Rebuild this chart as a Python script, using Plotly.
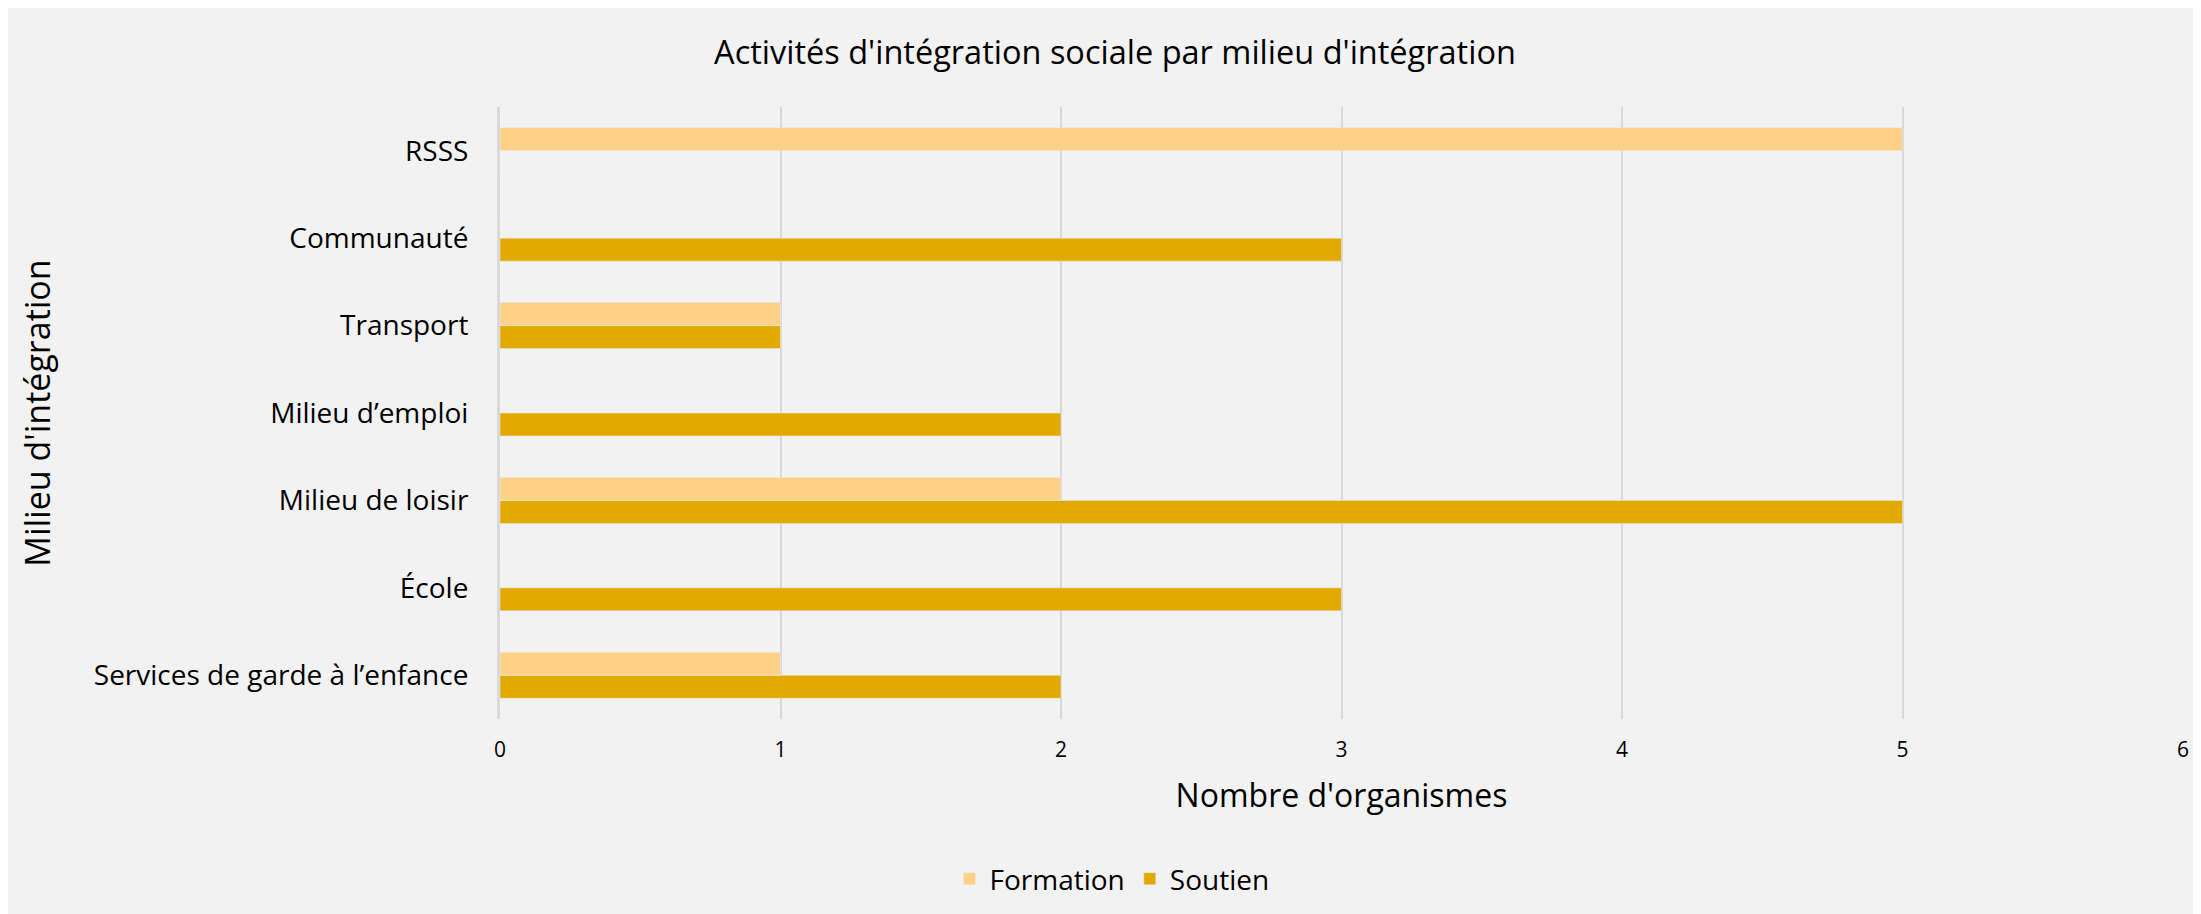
import plotly.graph_objects as go

categories = [
    "Services de garde à l’enfance",
    "École",
    "Milieu de loisir",
    "Milieu d’emploi",
    "Transport",
    "Communauté",
    "RSSS",
]
formation = [1, 0, 2, 0, 1, 0, 5]
soutien = [2, 3, 5, 2, 1, 3, 0]
x_ticks = [0, 1, 2, 3, 4, 5, 6]

FONT = "Open Sans"
C_FORM = "#FFD186"
C_SOUT = "#E2AA00"

W, H = 2201, 914
OFF = 8  # page offset of the figure
# plot area in page pixels
PL, PR, PT, PB = 500, 2183, 107, 719
L, R, T, B = PL - OFF, PR - OFF, PT - OFF, PB - OFF

def px2x(px):
    return (px - PL) / (PR - PL)

def px2y(py):
    return (PB - py) / (PB - PT)

fig = go.Figure()
fig.add_trace(go.Bar(
    y=categories, x=soutien, name="Soutien", orientation="h",
    marker=dict(color=C_SOUT), legendrank=2,
))
fig.add_trace(go.Bar(
    y=categories, x=formation, name="Formation", orientation="h",
    marker=dict(color=C_FORM), legendrank=1,
))

fig.update_layout(
    width=W, height=H,
    margin=dict(l=L, r=W - R, t=T, b=H - B, pad=0),
    paper_bgcolor="#F2F2F2",
    plot_bgcolor="#F2F2F2",
    barmode="group",
    bargap=0.474,
    bargroupgap=0,
    font=dict(family=FONT, color="#000000"),
    title=dict(
        text="Activités d'intégration sociale par milieu d'intégration",
        x=(1115 - OFF) / W, xanchor="center",
        y=1 - (53 - OFF) / H, yanchor="middle",
        font=dict(size=32.5, family=FONT, color="#000000"),
    ),
    showlegend=True,
    legend=dict(
        orientation="h",
        x=px2x(1112), xanchor="center",
        y=px2y(879), yanchor="middle",
        font=dict(size=28, family=FONT),
        bgcolor="rgba(0,0,0,0)",
        itemwidth=30,
    ),
    xaxis=dict(
        range=[0, 6],
        tickvals=x_ticks,
        ticktext=[str(v) for v in x_ticks],
        showgrid=True, gridcolor="#D9D9D9", gridwidth=2,
        zeroline=False,
        showline=False,
        ticks="",
        ticklabelstandoff=16,
        tickfont=dict(size=21, family=FONT),
        title=dict(text="Nombre d'organismes", font=dict(size=32, family=FONT), standoff=22),
        fixedrange=True,
    ),
    yaxis=dict(
        type="category",
        categoryorder="array",
        categoryarray=categories,
        showgrid=False,
        showline=True, linecolor="#D9D9D9", linewidth=3,
        ticks="",
        ticklabelstandoff=23,
        tickfont=dict(size=28, family=FONT),
        title=dict(text="Milieu d'intégration", font=dict(size=34, family=FONT), standoff=33),
        fixedrange=True,
    ),
)

fig.write_html("out.html")
